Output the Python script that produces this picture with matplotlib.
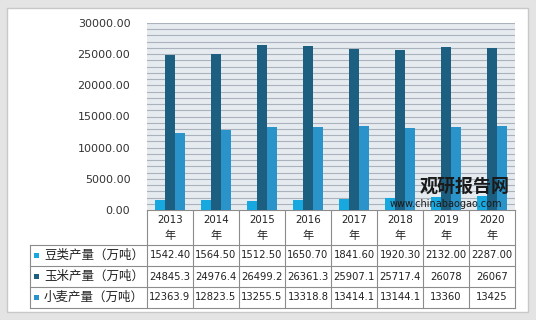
#!/usr/bin/env python3
import matplotlib
matplotlib.use("Agg")
import matplotlib.pyplot as plt
from matplotlib.patches import Rectangle
import numpy as np

plt.rcParams['font.family'] = ['DejaVu Sans', 'Noto Sans CJK SC']

years = ["2013", "2014", "2015", "2016", "2017", "2018", "2019", "2020"]
series_names = ["豆类产量（万吨）", "玉米产量（万吨）", "小麦产量（万吨）"]
soy = [1542.40, 1564.50, 1512.50, 1650.70, 1841.60, 1920.30, 2132.00, 2287.00]
corn = [24845.3, 24976.4, 26499.2, 26361.3, 25907.1, 25717.4, 26078, 26067]
wheat = [12363.9, 12823.5, 13255.5, 13318.8, 13414.1, 13144.1, 13360, 13425]
soy_txt = ["1542.40", "1564.50", "1512.50", "1650.70", "1841.60", "1920.30", "2132.00", "2287.00"]
corn_txt = ["24845.3", "24976.4", "26499.2", "26361.3", "25907.1", "25717.4", "26078", "26067"]
wheat_txt = ["12363.9", "12823.5", "13255.5", "13318.8", "13414.1", "13144.1", "13360", "13425"]
yticks = [0, 5000, 10000, 15000, 20000, 25000, 30000]

colors = ["#18a8e0", "#1c5f80", "#2a93c9"]

W, H = 536, 320
fig = plt.figure(figsize=(W / 100, H / 100), dpi=100)
fig.patch.set_facecolor("#e4e4e4")

# background / frame / table layer in pixel coordinates
bg = fig.add_axes([0, 0, 1, 1])
bg.set_xlim(0, W)
bg.set_ylim(H, 0)
bg.axis("off")
bg.add_patch(Rectangle((7, 8), 521, 304, facecolor="white", edgecolor="#c8c8c8", lw=1))

x_left, x_right = 147, 515
y_top, y_bot = 23, 210
ax = fig.add_axes([x_left / W, 1 - y_bot / H, (x_right - x_left) / W, (y_bot - y_top) / H])

n = len(years)
x = np.arange(n)
bw = 0.215
for i, (vals, c) in enumerate(zip([soy, corn, wheat], colors)):
    ax.bar(x + (i - 1) * bw, vals, width=bw, color=c, zorder=3)

ax.set_xlim(-0.5, n - 0.5)
ax.set_ylim(0, 30000)
ax.set_facecolor("#e6ebf0")
ax.set_yticks(yticks)
ax.set_yticklabels([f"{v:.2f}" for v in yticks], fontsize=8, color="#333333")
ax.set_yticks(np.arange(0, 30001, 1000), minor=True)
ax.grid(axis="y", which="both", color="#aab3bc", lw=0.8, zorder=0)
ax.set_xticks([])
ax.tick_params(axis="y", which="both", length=0, pad=12)
for s in ax.spines.values():
    s.set_visible(False)

# data table under the plot
col_w = (x_right - x_left) / n
row_tops = [245, 266, 287, 308]
lc = "#8c8c8c"
bg.plot([x_left, x_right], [y_bot, y_bot], color=lc, lw=0.8)
for yy in row_tops:
    bg.plot([30, x_right], [yy, yy], color=lc, lw=0.8)
for i in range(n + 1):
    bg.plot([x_left + i * col_w] * 2, [y_bot, row_tops[-1]], color=lc, lw=0.8)
bg.plot([30, 30], [row_tops[0], row_tops[-1]], color=lc, lw=0.8)

for i, yr in enumerate(years):
    cx = x_left + (i + 0.5) * col_w
    bg.text(cx, 220, yr, ha="center", va="center", fontsize=7.4, color="#222222")
    bg.text(cx, 236, "年", ha="center", va="center", fontsize=8,
            color="#222222", family=["Noto Sans CJK SC"])

rows = [soy_txt, corn_txt, wheat_txt]
for r, (name, txts, c) in enumerate(zip(series_names, rows, colors)):
    cy = (row_tops[r] + row_tops[r + 1]) / 2
    bg.add_patch(Rectangle((34, cy - 2.5), 5, 5, facecolor=c, edgecolor="none"))
    bg.text(44, cy, name, ha="left", va="center", fontsize=9,
            color="#222222", family=["Noto Sans CJK SC"])
    for i, t in enumerate(txts):
        cx = x_left + (i + 0.5) * col_w
        bg.text(cx, cy, t, ha="center", va="center", fontsize=7.2, color="#222222")

# watermark
wm = fig.add_axes([0, 0, 1, 1], facecolor="none")
wm.set_xlim(0, W)
wm.set_ylim(H, 0)
wm.axis("off")
wm.text(420, 186, "观研报告网", ha="left", va="center", fontsize=13,
        fontweight="bold", color="#1a1a1a", family=["Noto Sans CJK SC"])
wm.text(446, 204, "www.chinabaogao.com", ha="center", va="center", fontsize=7,
        color="#1a1a1a")

fig.savefig("out.png", dpi=100, facecolor=fig.get_facecolor())
